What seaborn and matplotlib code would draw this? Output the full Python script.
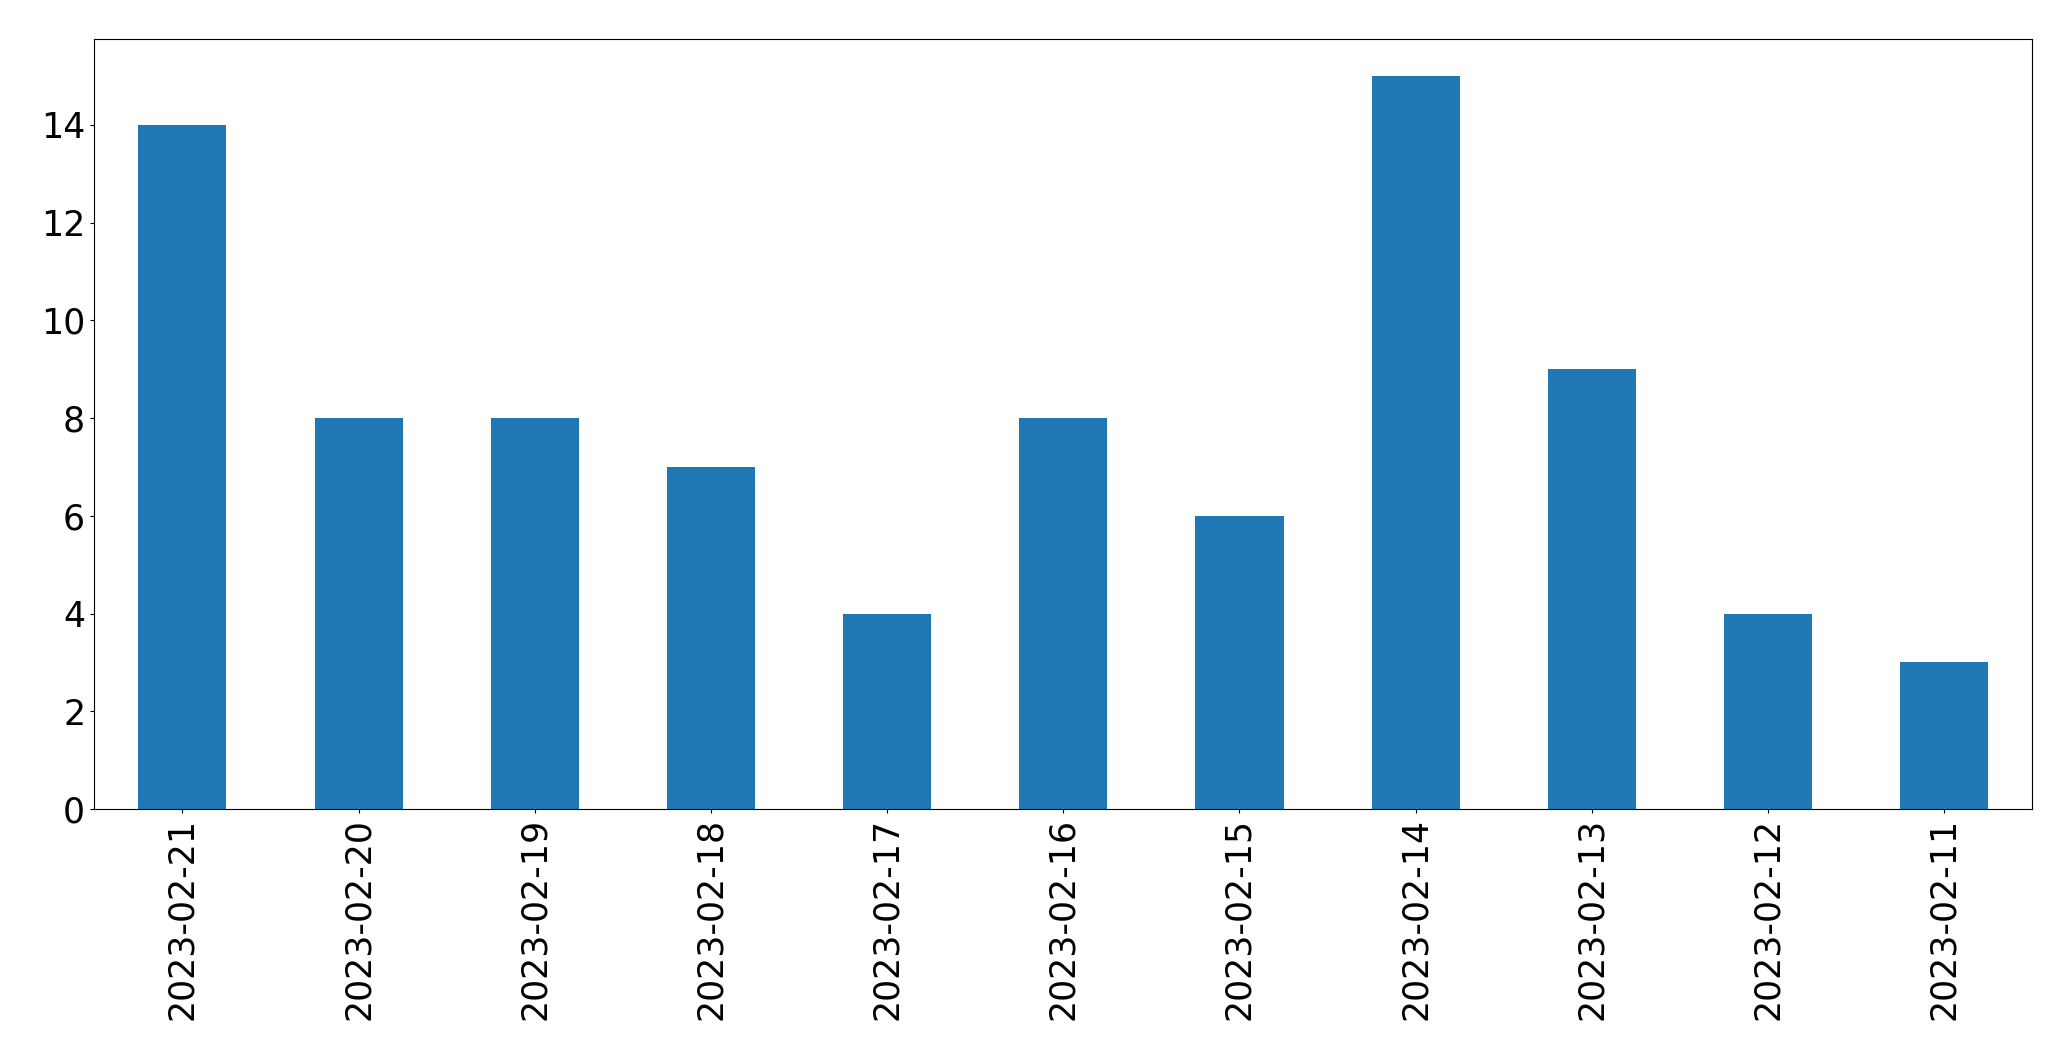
import matplotlib
matplotlib.use("Agg")
import matplotlib.pyplot as plt
import seaborn as sns
import pandas as pd

# Daten
dates = ["2023-02-21", "2023-02-20", "2023-02-19", "2023-02-18", "2023-02-17",
         "2023-02-16", "2023-02-15", "2023-02-14", "2023-02-13", "2023-02-12",
         "2023-02-11"]
counts = [14, 8, 8, 7, 4, 8, 6, 15, 9, 4, 3]

df = pd.DataFrame({"date": dates, "count": counts})

fig = plt.figure(figsize=(20.71, 10.61), dpi=100)
ax = fig.add_axes([94.3 / 2071, 1 - 809 / 1061, (2032.3 - 94.3) / 2071, (809 - 39.3) / 1061])
sns.barplot(x="date", y="count", data=df, color="#1f77b4", saturation=1,
            width=0.5, order=dates, ax=ax)
ax.set_xlabel("")
ax.set_ylabel("")
ax.set_xlim(-0.5, len(dates) - 0.5)
ax.set_ylim(0, 15.75)
ax.tick_params(axis="both", labelsize=25, length=3.1)
ax.tick_params(axis="x", labelrotation=90)
fig.savefig("out.png", dpi=100)
